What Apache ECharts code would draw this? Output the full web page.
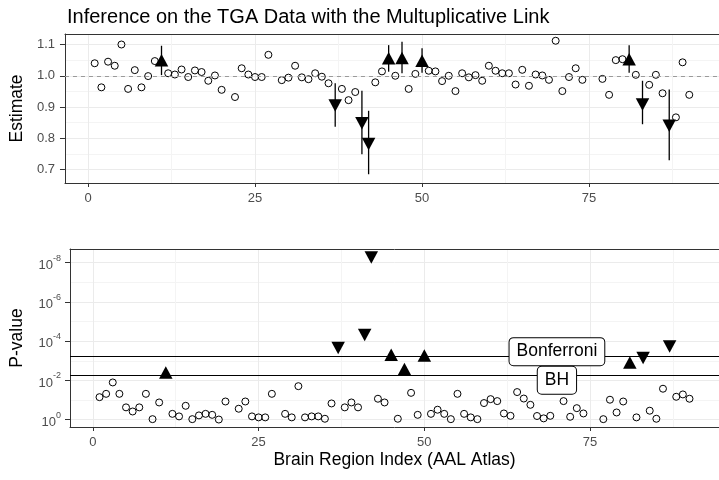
<!DOCTYPE html>
<html>
<head>
<meta charset="utf-8">
<script src="https://cdn.jsdelivr.net/npm/echarts@6/dist/echarts.min.js"></script>
<style>
  html, body { margin: 0; padding: 0; background: #fff; }
  #chart { width: 719px; height: 480px; }
</style>
</head>
<body>
<div id="chart"></div>
<script>
// region index 1..90, null where a region has no result
var estimate = [
  1.040, 0.963, 1.045, 1.032, 1.100, 0.958, 1.018, 0.963, 0.999, 1.047,
  1.050, 1.008, 1.004, 1.020, 0.996, 1.017, 1.012, 0.984, 1.001, 0.955,
  null, 0.932, 1.024, 1.004, 0.996, 0.996, 1.067, null, 0.986, 0.994,
  1.032, 0.995, 0.989, 1.008, 0.997, 0.976, 0.905, 0.958, 0.922, 0.948,
  0.848, 0.782, 0.979, 1.014, 1.056, 1.000, 1.057, 0.958, 1.006, 1.048,
  1.016, 1.014, 0.983, 1.000, 0.951, 1.008, 0.995, 1.002, 0.984, 1.032,
  1.016, 1.008, 1.008, 0.972, 1.019, 0.968, 1.004, 1.001, 0.987, 1.112,
  0.951, 0.996, 1.024, 0.987, null, null, 0.990, 0.939, 1.050, 1.053,
  1.053, 1.003, 0.908, 0.971, 1.003, 0.944, 0.840, 0.867, 1.043, 0.939
];
// log10 of the p-value
var log10P = [
  -1.15, -1.32, -1.90, -1.32, -0.63, -0.42, -0.63, -1.32, -0.03, -0.88,
  -2.41, -0.30, -0.17, -0.71, -0.03, -0.22, -0.30, -0.25, -0.01, -0.93,
  null, -0.56, -0.93, -0.17, -0.12, -0.12, -1.32, null, -0.30, -0.12,
  -1.71, -0.12, -0.17, -0.17, -0.05, -0.83, -3.65, -0.63, -0.88, -0.63,
  -4.32, -8.27, -1.07, -0.88, -3.31, -0.05, -2.58, -1.37, -0.25, -3.27,
  -0.30, -0.51, -0.30, -0.03, -1.32, -0.30, -0.12, -0.03, -0.85, -1.05,
  -0.95, -0.32, -0.20, -1.41, -1.08, -0.76, -0.19, -0.07, -0.20, -1.60,
  -0.95, -0.15, -0.59, -0.32, null, null, -0.03, -1.02, -0.37, -0.93,
  -2.92, -0.12, -3.14, -0.46, -0.05, -1.58, -3.73, -1.17, -1.29, -1.07
];
// confidence intervals of the significant regions
var ciRegion = [11, 37, 41, 42, 45, 47, 50, 81, 83, 87];
var ciLower = [1.002, 0.837, 0.749, 0.685, 1.013, 1.008, 1.010, 1.010, 0.845, 0.730];
var ciUpper = [1.096, 0.976, 0.952, 0.888, 1.098, 1.109, 1.088, 1.098, 0.984, 0.956];

var bonferroniLog = -3.255;
var bhLog = -2.255;
var cutNames = ['Bonferroni', 'BH'];
var cutLabelX = [70, 70];
var cutLabelY = [-3.47, -2.01];

var xMajor = [0, 25, 50, 75];
var xMinor = [12.5, 37.5, 62.5, 87.5];
var estMajor = [0.7, 0.8, 0.9, 1.0, 1.1];
var estMinor = [0.75, 0.85, 0.95, 1.05];
var pMajor = [-8, -6, -4, -2, 0];
var pMinor = [-7, -5, -3, -1];

var FONT = 'Liberation Sans, Arial, sans-serif';
var TXT = '#4D4D4D';
var FRAME = { show: true, onZero: false, lineStyle: { color: '#333', width: 1 } };

var circlesTop = [], upTop = [], downTop = [];
var circlesBot = [], upBot = [], downBot = [];
estimate.forEach(function (e, i) {
  if (e === null) return;
  var x = i + 1;
  var sig = log10P[i] <= bhLog;
  if (!sig) {
    circlesTop.push([x, e]);
    circlesBot.push([x, log10P[i]]);
  } else if (e > 1) {
    upTop.push([x, e]);
    upBot.push([x, log10P[i]]);
  } else {
    downTop.push([x, e]);
    downBot.push([x, log10P[i]]);
  }
});
var bars = ciRegion.map(function (r, i) { return [r, ciLower[i], ciUpper[i]]; });

function xAxisPair(grid) {
  return [
    {
      type: 'value', gridIndex: grid, min: -3.45, max: 94.45, position: 'bottom',
      axisLine: FRAME,
      axisTick: { show: true, length: 4, lineStyle: { color: '#333' }, customValues: xMajor },
      axisLabel: { customValues: xMajor, color: TXT, fontSize: 13, fontFamily: FONT, margin: 9 },
      splitLine: { show: true, lineStyle: { color: '#EBEBEB', width: 1 } }
    },
    {
      type: 'value', gridIndex: grid, min: -3.45, max: 94.45, position: 'top',
      axisLine: FRAME,
      axisTick: { show: false, customValues: xMinor },
      axisLabel: { show: false },
      splitLine: { show: true, lineStyle: { color: '#F4F4F4', width: 1 } }
    }
  ];
}

var dot = { color: 'transparent', borderColor: '#000', borderWidth: 1, opacity: 1 };
var tri = { color: '#000', opacity: 1 };

var chart = echarts.init(document.getElementById('chart'));
chart.setOption({
  animation: false,
  backgroundColor: '#fff',
  title: {
    text: 'Inference on the TGA Data with the Multuplicative Link',
    left: 62, top: 2,
    textStyle: { fontFamily: FONT, fontSize: 20, fontWeight: 'normal', color: '#000' }
  },
  grid: [
    { left: 63, top: 34, width: 665, height: 149 },
    { left: 69, top: 249, width: 661, height: 178 }
  ],
  xAxis: xAxisPair(0).concat(xAxisPair(1)).map(function (a, i) {
    if (i === 2) {
      a.name = 'Brain Region Index (AAL Atlas)';
      a.nameLocation = 'middle';
      a.nameGap = 24;
      a.nameTextStyle = { fontFamily: FONT, fontSize: 17.5, color: '#000' };
    }
    return a;
  }),
  yAxis: [
    {
      type: 'value', gridIndex: 0, min: 0.657, max: 1.1336, position: 'left',
      name: 'Estimate', nameLocation: 'middle', nameGap: 37, nameRotate: 90,
      nameTextStyle: { fontFamily: FONT, fontSize: 17.5, color: '#000' },
      axisLine: FRAME,
      axisTick: { show: true, length: 5, lineStyle: { color: '#333' }, customValues: estMajor },
      axisLabel: { customValues: estMajor, color: TXT, fontSize: 13, fontFamily: FONT, margin: 10,
        formatter: function (v) { return v.toFixed(1); } },
      splitLine: { show: true, lineStyle: { color: '#EBEBEB', width: 1 } }
    },
    {
      type: 'value', gridIndex: 0, min: 0.657, max: 1.1336, position: 'right',
      axisLine: FRAME,
      axisTick: { show: false, customValues: estMinor },
      axisLabel: { show: false },
      splitLine: { show: true, lineStyle: { color: '#F4F4F4', width: 1 } }
    },
    {
      type: 'value', gridIndex: 1, min: -8.70, max: 0.37, inverse: true, position: 'left',
      name: 'P-value', nameLocation: 'middle', nameGap: 44, nameRotate: 90,
      nameTextStyle: { fontFamily: FONT, fontSize: 17.5, color: '#000' },
      axisLine: FRAME,
      axisTick: { show: true, length: 5, lineStyle: { color: '#333' }, customValues: pMajor },
      axisLabel: {
        customValues: pMajor, margin: 9,
        formatter: function (v) { return '{b|10}{s|' + v + '}'; },
        rich: {
          b: { fontSize: 13, color: TXT, fontFamily: FONT, lineHeight: 18, verticalAlign: 'bottom' },
          s: { fontSize: 9, color: TXT, fontFamily: FONT, lineHeight: 18, verticalAlign: 'top' }
        }
      },
      splitLine: { show: true, lineStyle: { color: '#EBEBEB', width: 1 } }
    },
    {
      type: 'value', gridIndex: 1, min: -8.70, max: 0.37, inverse: true, position: 'right',
      axisLine: FRAME,
      axisTick: { show: false, customValues: pMinor },
      axisLabel: { show: false },
      splitLine: { show: true, lineStyle: { color: '#F4F4F4', width: 1 } }
    }
  ],
  series: [
    {
      type: 'custom', xAxisIndex: 0, yAxisIndex: 0, data: bars, z: 3,
      encode: { x: 0, y: [1, 2] },
      renderItem: function (params, api) {
        var a = api.coord([api.value(0), api.value(1)]);
        var b = api.coord([api.value(0), api.value(2)]);
        return { type: 'line', shape: { x1: a[0], y1: a[1], x2: b[0], y2: b[1] },
          style: { stroke: '#000', lineWidth: 1.3 } };
      }
    },
    {
      type: 'scatter', xAxisIndex: 0, yAxisIndex: 0, data: circlesTop, z: 4,
      symbol: 'circle', symbolSize: 7, itemStyle: dot,
      markLine: {
        silent: true, symbol: 'none', label: { show: false },
        lineStyle: { color: '#9A9A9A', type: [4, 4], width: 1, opacity: 1 },
        data: [{ yAxis: 1 }]
      }
    },
    {
      type: 'scatter', xAxisIndex: 0, yAxisIndex: 0, data: upTop, z: 5,
      symbol: 'triangle', symbolSize: [13.5, 12.5], itemStyle: tri
    },
    {
      type: 'scatter', xAxisIndex: 0, yAxisIndex: 0, data: downTop, z: 5,
      symbol: 'triangle', symbolRotate: 180, symbolSize: [13.5, 12.5], itemStyle: tri
    },
    {
      type: 'scatter', xAxisIndex: 2, yAxisIndex: 2, data: circlesBot, z: 4,
      symbol: 'circle', symbolSize: 7, itemStyle: dot,
      markLine: {
        silent: true, symbol: 'none', label: { show: false },
        lineStyle: { color: '#000', type: 'solid', width: 1.2, opacity: 1 },
        data: [{ yAxis: bonferroniLog }, { yAxis: bhLog }]
      }
    },
    {
      type: 'scatter', xAxisIndex: 2, yAxisIndex: 2, data: upBot, z: 5,
      symbol: 'triangle', symbolSize: [13.5, 12.5], itemStyle: tri
    },
    {
      type: 'scatter', xAxisIndex: 2, yAxisIndex: 2, data: downBot, z: 5,
      symbol: 'triangle', symbolRotate: 180, symbolSize: [13.5, 12.5], itemStyle: tri
    },
    {
      type: 'scatter', xAxisIndex: 2, yAxisIndex: 2, z: 10, symbolSize: 0,
      itemStyle: { opacity: 1 },
      data: cutNames.map(function (n, i) { return { name: n, value: [cutLabelX[i], cutLabelY[i]] }; }),
      label: {
        show: true, position: 'inside', formatter: '{b}',
        fontFamily: FONT, fontSize: 17.5, color: '#000',
        backgroundColor: '#fff', borderColor: '#000', borderWidth: 1, borderRadius: 4,
        padding: [5, 7, 4, 7]
      }
    }
  ]
});
</script>
</body>
</html>
